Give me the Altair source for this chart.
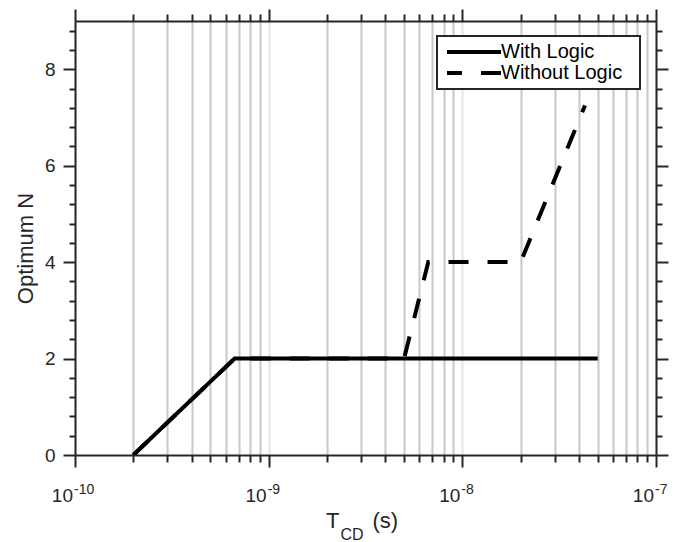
import altair as alt
import pandas as pd

# ---- data ----
series_names = ["With Logic", "Without Logic"]
with_x = [2e-10, 6.67e-10, 5e-8]
with_y = [0, 2, 2]
without_x = [2e-10, 6.67e-10, 5e-9, 6.67e-9, 2e-8, 4.3e-8]
without_y = [0, 2, 2, 4, 4, 7.25]

x_decades = [-10, -9, -8]
x_tick_values = [k * 10.0 ** e for e in x_decades for k in range(1, 10)] + [1e-7]
x_label_values = [1e-10, 1e-9, 1e-8, 1e-7]
x_label_base = ["10", "10", "10", "10"]
x_label_exp = ["-10", "-9", "-8", "-7"]
y_tick_values = [round(0.4 * i, 1) for i in range(23)]
x_title_parts = ["T", "CD", "(s)"]
y_title = "Optimum N"

rows = []
for i, (xv, yv) in enumerate(zip(with_x, with_y)):
    rows.append({"series": series_names[0], "x": xv, "y": yv, "o": i})
for i, (xv, yv) in enumerate(zip(without_x, without_y)):
    rows.append({"series": series_names[1], "x": xv, "y": yv, "o": i})
df = pd.DataFrame(rows)
lab_df = pd.DataFrame({"x": x_label_values, "base": x_label_base, "exp": x_label_exp})

FONT = "Liberation Sans"
DARK = "#262626"

lg = "log(datum.value)/LN10"
x_major = f"abs({lg} - round({lg})) < 0.001"
y_major = "abs(datum.value/2 - round(datum.value/2)) < 0.001"

x_scale = alt.Scale(type="log", domain=[1e-10, 1e-7])
y_scale = alt.Scale(domain=[0, 9], nice=False, zero=False)

common_axis = dict(
    domainColor=DARK, domainWidth=2, tickColor=DARK, tickWidth=2,
    labelColor=DARK, labelFont=FONT, labelFontSize=19,
    titleFont=FONT, titleColor=DARK, labelOverlap=False, labelFlush=False,
)

x_axis_bottom = alt.Axis(
    values=x_tick_values, labels=False, title=None,
    tickSize={"condition": {"test": x_major, "value": 12}, "value": 7},
    grid=True,
    gridColor={"condition": {"test": x_major, "value": "#e6e6e6"}, "value": "#c8c8c8"},
    gridWidth=2, **common_axis,
)
x_axis_top = alt.Axis(
    orient="top", values=x_tick_values, labels=False, title=None, grid=False,
    tickSize={"condition": {"test": x_major, "value": 12}, "value": 7},
    **common_axis,
)
y_axis_left = alt.Axis(
    values=y_tick_values,
    labelExpr=f"{y_major} ? toString(round(datum.value)) : ''",
    tickSize={"condition": {"test": y_major, "value": 12}, "value": 6},
    grid=False, title=y_title, titleFontSize=22, titleFontWeight="normal",
    titleX=-43, titleY=227, titleAngle=270, titleBaseline="alphabetic",
    labelPadding=8, **common_axis,
)
y_axis_right = alt.Axis(
    orient="right", values=y_tick_values, labels=False, title=None, grid=False,
    tickSize={"condition": {"test": y_major, "value": 12}, "value": 6},
    **common_axis,
)

lines = alt.Chart(df).mark_line(
    color="black", strokeWidth=4, strokeCap="butt", strokeJoin="miter", clip=True
).encode(
    x=alt.X("x:Q", scale=x_scale, axis=x_axis_bottom),
    y=alt.Y("y:Q", scale=y_scale, axis=y_axis_left),
    strokeDash=alt.StrokeDash(
        "series:N",
        scale=alt.Scale(domain=series_names, range=[[1, 0], [20, 19]]),
        legend=alt.Legend(
            title=None, orient="none", legendX=362, legendY=15,
            symbolType="M-3,0H3", symbolSize=324, symbolStrokeWidth=4,
            symbolStrokeColor="black", symbolDashOffset=5,
            symbolOffset=21, labelOffset=16, padding=5, rowPadding=0,
            labelFont=FONT, labelFontSize=20, labelColor="black",
            cornerRadius=0,
        ),
    ),
    order="o:Q",
)

frame = alt.Chart(df).mark_line(opacity=0).encode(
    x=alt.X("x:Q", scale=x_scale, axis=x_axis_top),
    y=alt.Y("y:Q", scale=y_scale, axis=y_axis_right),
    detail="series:N",
)

# white box behind the legend entries
legend_box = alt.Chart(pd.DataFrame({"k": [0]})).mark_rect(
    fill="white", stroke=DARK, strokeWidth=2
).encode(
    x=alt.value(362), x2=alt.value(565), y=alt.value(15), y2=alt.value(68)
)

base_labels = alt.Chart(lab_df).mark_text(
    align="right", baseline="alphabetic", font=FONT, fontSize=19, color=DARK, dx=-2
).encode(x=alt.X("x:Q", scale=x_scale, axis=None), y=alt.value(481), text="base:N")
exp_labels = alt.Chart(lab_df).mark_text(
    align="left", baseline="alphabetic", font=FONT, fontSize=14, color=DARK, dx=-1
).encode(x=alt.X("x:Q", scale=x_scale, axis=None), y=alt.value(473), text="exp:N")

title_T = alt.Chart(pd.DataFrame({"t": [x_title_parts[0]]})).mark_text(
    align="left", baseline="alphabetic", font=FONT, fontSize=22, color=DARK
).encode(x=alt.value(251), y=alt.value(506.5), text="t:N")
title_CD = alt.Chart(pd.DataFrame({"t": [x_title_parts[1]]})).mark_text(
    align="left", baseline="alphabetic", font=FONT, fontSize=16, color=DARK
).encode(x=alt.value(265.5), y=alt.value(519), text="t:N")
title_s = alt.Chart(pd.DataFrame({"t": [x_title_parts[2]]})).mark_text(
    align="left", baseline="alphabetic", font=FONT, fontSize=22, color=DARK
).encode(x=alt.value(297.5), y=alt.value(506.5), text="t:N")

chart = alt.layer(
    frame, lines, legend_box, base_labels, exp_labels, title_T, title_CD, title_s
).resolve_axis(
    x="independent", y="independent"
).properties(
    width=581, height=434,
    autosize=alt.AutoSizeParams(type="none"),
    padding={"left": 75, "top": 21, "right": 20, "bottom": 87},
    background="white",
).configure_view(stroke=None).configure_legend(strokeWidth=0)

chart.save("out.html", embed_options={"renderer": "svg", "actions": False})
